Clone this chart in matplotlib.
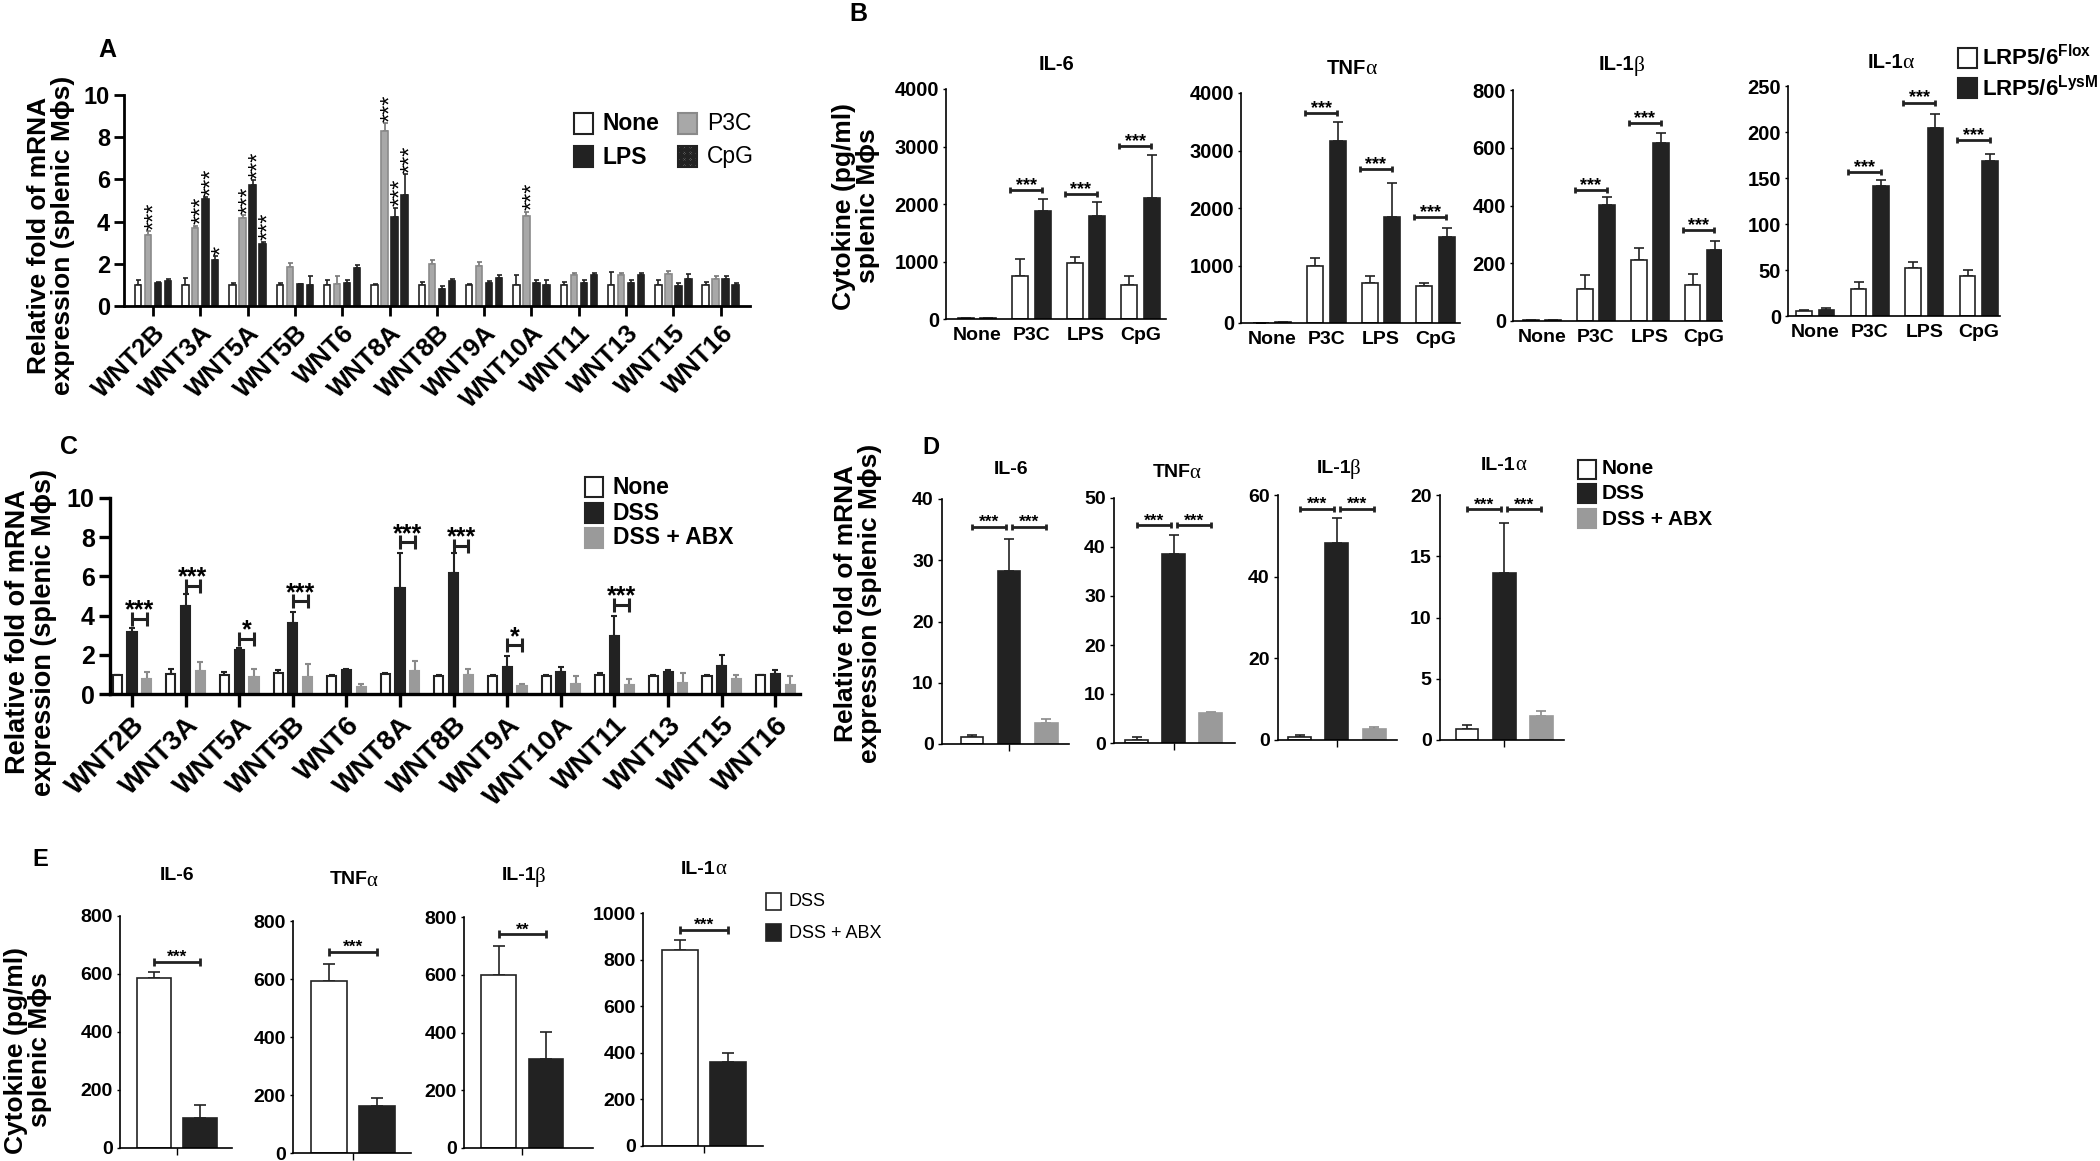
import numpy as np
import matplotlib
matplotlib.use("Agg")
from matplotlib import pyplot as plt
from matplotlib.patches import Rectangle

plt.rcParams['font.family'] = ['Liberation Sans', 'DejaVu Sans']
plt.rcParams['font.weight'] = 'bold'
plt.rcParams['mathtext.fontset'] = 'custom'
plt.rcParams['mathtext.rm'] = 'Liberation Sans'
plt.rcParams['mathtext.bf'] = 'Liberation Sans:bold'
plt.rcParams['hatch.linewidth'] = 0.8

# ---- A: WNT mRNA in splenic macrophages after TLR stimulation
wnt_a = ['WNT2B', 'WNT3A', 'WNT5A', 'WNT5B', 'WNT6', 'WNT8A', 'WNT8B',
         'WNT9A', 'WNT10A', 'WNT11', 'WNT13', 'WNT15', 'WNT16']
a_none = [1.0, 1.0, 1.0, 1.0, 1.0, 1.0, 1.0, 1.0, 1.0, 1.0, 1.0, 1.0, 1.0]
a_none_err = [0.25, 0.32, 0.1, 0.08, 0.22, 0.02, 0.12, 0.02, 0.45, 0.15, 0.62, 0.22, 0.16]
a_p3c = [3.35, 3.7, 4.15, 1.85, 1.05, 8.3, 1.98, 1.88, 4.25, 1.45, 1.45, 1.52, 1.3]
a_p3c_err = [0.2, 0.1, 0.15, 0.2, 0.37, 0.35, 0.2, 0.19, 0.22, 0.1, 0.1, 0.12, 0.12]
a_lps = [1.1, 5.05, 5.75, 1.02, 1.1, 4.2, 0.82, 1.08, 1.08, 1.08, 1.08, 0.95, 1.26]
a_lps_err = [0.05, 0.1, 0.2, 0.03, 0.15, 0.45, 0.13, 0.12, 0.14, 0.14, 0.14, 0.12, 0.17]
a_cpg = [1.2, 2.2, 2.95, 1.0, 1.8, 5.25, 1.18, 1.35, 1.0, 1.45, 1.45, 1.3, 0.98]
a_cpg_err = [0.1, 0.15, 0.1, 0.42, 0.15, 1.0, 0.12, 0.13, 0.22, 0.1, 0.1, 0.2, 0.12]
a_sig_p3c = ['***', '***', '***', '', '', '***', '', '', '***', '', '', '', '']
a_sig_lps = ['', '***', '***', '', '', '***', '', '', '', '', '', '', '']
a_sig_cpg = ['', '*', '***', '', '', '***', '', '', '', '', '', '', '']

# ---- B: cytokines, LRP5/6 flox vs LysM
b_groups = ['None', 'P3C', 'LPS', 'CpG']
b_titles = [('IL-6', ''), ('TNF', '\u03b1'), ('IL-1', '\u03b2'), ('IL-1', '\u03b1')]
b_flox = [[10, 750, 970, 600], [5, 990, 700, 650], [3, 111, 210, 126], [5, 29, 52, 44]]
b_flox_err = [[0, 290, 110, 150], [0, 140, 110, 40], [1, 47, 43, 38], [1.5, 8, 7, 6]]
b_lysm = [[10, 1870, 1790, 2100], [10, 3170, 1850, 1490], [4, 402, 617, 247], [7, 141, 204, 168]]
b_lysm_err = [[0, 220, 250, 750], [0, 330, 580, 170], [1, 26, 33, 30], [2, 7, 16, 8]]
b_bracket = [[None, 2250, 2180, 3015], [None, 3650, 2680, 1840],
             [None, 455, 684, 314], [None, 156, 232, 191]]
b_ymax = [4000, 4000, 800, 250]
b_ystep = [1000, 1000, 200, 50]

# ---- C: WNT mRNA after DSS +/- antibiotics
wnt_c = wnt_a
c_none = [0.95, 1.04, 0.97, 1.05, 0.9, 1.02, 0.93, 0.92, 0.92, 0.98, 0.9, 0.9, 0.95]
c_none_err = [0.04, 0.24, 0.14, 0.15, 0.08, 0.06, 0.04, 0.06, 0.05, 0.08, 0.07, 0.09, 0.02]
c_dss = [3.17, 4.48, 2.26, 3.6, 1.2, 5.4, 6.18, 1.36, 1.1, 2.95, 1.1, 1.45, 1.02]
c_dss_err = [0.18, 0.62, 0.1, 0.59, 0.08, 1.8, 1.02, 0.59, 0.3, 1.05, 0.15, 0.55, 0.22]
c_abx = [0.75, 1.15, 0.85, 0.88, 0.35, 1.15, 0.95, 0.41, 0.5, 0.45, 0.56, 0.78, 0.44]
c_abx_err = [0.37, 0.47, 0.42, 0.63, 0.17, 0.53, 0.33, 0.11, 0.4, 0.3, 0.5, 0.17, 0.5]
c_bracket = [3.83, 5.5, 2.83, 4.73, None, 7.73, 7.55, 2.48, None, 4.55, None, None, None]
c_sig = ['***', '***', '*', '***', '', '***', '***', '*', '', '***', '', '', '']

# ---- D: cytokine mRNA after DSS +/- antibiotics
d_titles = b_titles
d_none = [1.2, 0.7, 0.8, 0.87]
d_none_err = [0.27, 0.5, 0.5, 0.36]
d_dss = [28.3, 38.5, 48.2, 13.66]
d_dss_err = [5.2, 4.0, 6.1, 4.04]
d_abx = [3.4, 6.1, 2.7, 1.99]
d_abx_err = [0.7, 0.2, 0.4, 0.41]
d_bracket = [35.5, 44.4, 56.6, 18.83]
d_ymax = [40, 50, 60, 20]
d_ystep = [10, 10, 20, 5]

# ---- E: cytokine protein, DSS vs DSS + ABX
e_titles = b_titles
e_dss = [585, 592, 598, 840]
e_dss_err = [23, 59, 102, 43]
e_abx = [103, 163, 307, 359]
e_abx_err = [46, 27, 95, 38]
e_bracket = [643, 693, 740, 926]
e_sig = ['***', '***', '**', '***']
e_ymax = [800, 800, 800, 1000]

W, H = 2100, 1161
BLACK = '#222222'
GRAY_A = '#a8a8a8'
GRAY_C = '#9a9a9a'
YLAB_MRNA = 'Relative fold of mRNA\nexpression (splenic M\u03d5s)'
YLAB_CYTO = 'Cytokine (pg/ml)\nsplenic M\u03d5s'

fig = plt.figure(figsize=(W / 100, H / 100), dpi=100)
renderer = fig.canvas.get_renderer()


def axes_px(x0, x1, ytop, ybot, spine_w):
    ax = fig.add_axes([x0 / W, 1 - ybot / H, (x1 - x0) / W, (ybot - ytop) / H])
    ax.spines['top'].set_visible(False)
    ax.spines['right'].set_visible(False)
    ax.spines['left'].set_linewidth(spine_w)
    ax.spines['bottom'].set_linewidth(spine_w)
    ax.patch.set_alpha(0)
    return ax


def ftext(x, y, s, **kw):
    return fig.text(x / W, 1 - y / H, s, **kw)


def ftitle(x, y, parts, fs):
    # bold sans name followed by a thin serif greek letter, centred as one
    name, greek = parts
    if not greek:
        ftext(x, y, name, fontsize=fs, fontweight='bold', ha='center', va='center')
        return
    t1 = ftext(x, y, name, fontsize=fs, fontweight='bold', ha='left', va='center')
    t2 = ftext(x, y + 1, greek, fontsize=fs + 1, fontweight='normal', ha='left',
               va='center', family=['Liberation Serif', 'DejaVu Serif'])
    w1 = t1.get_window_extent(renderer).width
    w2 = t2.get_window_extent(renderer).width
    left = x - (w1 + w2) / 2
    t1.set_position((left / W, 1 - y / H))
    t2.set_position(((left + w1 - 1) / W, 1 - (y + 1) / H))


def fbox(x, y, w, h, **kw):
    fig.add_artist(Rectangle((x / W, 1 - (y + h) / H), w / W, h / H,
                             transform=fig.transFigure, **kw))


def draw_bars(ax, x, vals, errs, width, face, edge, lw, cap, hatch=None, ecolor=None):
    x = np.asarray(x, dtype=float)
    ax.errorbar(x, vals, yerr=[np.zeros(len(vals)), errs], fmt='none',
                ecolor=ecolor or edge, elinewidth=lw, capsize=cap, capthick=lw,
                zorder=1, clip_on=False)
    ax.bar(x, vals, width, color=face, edgecolor=edge, linewidth=lw,
           hatch=hatch, zorder=2)


def bracket(ax, x1, x2, y, label, tick, lw, fs, off=0):
    ax.plot([x1, x2], [y, y], color=BLACK, lw=lw, clip_on=False,
            solid_capstyle='butt')
    ax.plot([x1, x2], [y, y], ls='none', marker='|', ms=tick, mew=lw,
            color=BLACK, clip_on=False)
    ax.annotate(label, xy=((x1 + x2) / 2, y), xytext=(0, off),
                textcoords='offset points', ha='center', va='baseline',
                fontsize=fs, fontweight='bold', annotation_clip=False)


# ================= A =================
ftext(98, 38, 'A', fontsize=18, fontweight='bold', va='top')
axA = axes_px(124, 750, 95, 306, 2.0)
xa = np.arange(len(wnt_a))
wa = 0.135
series_a = [(a_none, a_none_err, -0.317, 'white', BLACK, None, BLACK, None),
            (a_p3c, a_p3c_err, -0.106, GRAY_A, '#8a8a8a', None, '#777777', a_sig_p3c),
            (a_lps, a_lps_err, 0.106, BLACK, BLACK, None, BLACK, a_sig_lps),
            (a_cpg, a_cpg_err, 0.317, 'white', BLACK, 'x' * 26, BLACK, a_sig_cpg)]
for vals, errs, off, face, edge, hatch, ec, sig in series_a:
    draw_bars(axA, xa + off, vals, errs, wa, face, edge, 1.2, 1.8, hatch, ec)
    if sig is None:
        continue
    for i, s in enumerate(sig):
        if s:
            axA.annotate(s, xy=(xa[i] + off, vals[i] + errs[i]), xytext=(5.0, 1.0),
                         textcoords='offset points', rotation=90, ha='center',
                         va='bottom', fontsize=17, fontweight='normal',
                         annotation_clip=False)
axA.set_xlim(-0.613, 12.62)
axA.set_ylim(0, 10)
axA.set_yticks(np.arange(0, 11, 2))
axA.set_xticks(xa)
axA.set_xticklabels(wnt_a, rotation=45, ha='right', va='top',
                    rotation_mode='anchor', fontsize=18.5, fontweight='bold')
axA.tick_params(axis='x', length=7, width=2, pad=4)
axA.tick_params(axis='y', length=7, width=2, pad=3, labelsize=17)
ftext(51, 235, YLAB_MRNA, rotation=90, ha='center', va='center', fontsize=19,
      fontweight='bold', linespacing=1.0, multialignment='center')
# legend A
fbox(574, 113, 19, 21, facecolor='white', edgecolor=BLACK, lw=1.5)
fbox(574, 146, 19, 21, facecolor=BLACK, edgecolor=BLACK, lw=1.5)
fbox(678, 113, 19, 21, facecolor=GRAY_A, edgecolor='#8a8a8a', lw=1.5)
fbox(678, 146, 19, 21, facecolor='white', edgecolor=BLACK, lw=1.5, hatch='x' * 14)
ftext(603, 124, 'None', fontsize=16.5, fontweight='bold', va='center')
ftext(603, 157, 'LPS', fontsize=16.5, fontweight='bold', va='center')
ftext(707, 124, 'P3C', fontsize=16.5, fontweight='normal', va='center')
ftext(707, 157, 'CpG', fontsize=16.5, fontweight='normal', va='center')

# ================= B =================
ftext(849, 2, 'B', fontsize=18, fontweight='bold', va='top')
b_axes_px = [(946, 1166, 89, 319, -0.57, 3.47), (1241, 1460, 93, 323, -0.57, 3.45),
             (1513, 1722, 90, 321, -0.54, 3.34), (1788, 2000, 86, 316, -0.5, 3.39)]
b_title_px = [(1057, 65), (1352, 68), (1622, 65), (1891, 62)]
xb = np.arange(len(b_groups))
for k in range(4):
    x0, x1, yt, yb, lo, hi = b_axes_px[k]
    ax = axes_px(x0, x1, yt, yb, 1.2)
    draw_bars(ax, xb - 0.206, b_flox[k], b_flox_err[k], 0.29, 'white', BLACK, 1.2, 3.5)
    draw_bars(ax, xb + 0.206, b_lysm[k], b_lysm_err[k], 0.29, BLACK, BLACK, 1.2, 3.5)
    for i, h in enumerate(b_bracket[k]):
        if h is not None:
            bracket(ax, xb[i] - 0.39, xb[i] + 0.2, h, '***', 5, 2.0, 13, 0)
    ax.set_xlim(lo, hi)
    ax.set_ylim(0, b_ymax[k])
    ax.set_yticks(np.arange(0, b_ymax[k] + 1, b_ystep[k]))
    ax.set_xticks(xb)
    ax.set_xticklabels(b_groups, fontsize=14, fontweight='bold')
    ax.tick_params(axis='x', length=0, pad=6)
    ax.tick_params(axis='y', length=2, width=1, pad=3, labelsize=14.5)
    tx, ty = b_title_px[k]
    ftitle(tx, ty, b_titles[k], 14.5)
ftext(856, 206, YLAB_CYTO, rotation=90, ha='center', va='center', fontsize=19,
      fontweight='bold', linespacing=1.0, multialignment='center')
fbox(1958, 48, 19, 20, facecolor='white', edgecolor=BLACK, lw=1.5)
fbox(1958, 78, 19, 20, facecolor=BLACK, edgecolor=BLACK, lw=1.5)
ftext(1982, 58, r'LRP5/6$^{\mathbf{Flox}}$', fontsize=16, fontweight='bold', va='center')
ftext(1982, 88, r'LRP5/6$^{\mathbf{LysM}}$', fontsize=16, fontweight='bold', va='center')

# ================= C =================
ftext(60, 435, 'C', fontsize=18, fontweight='bold', va='top')
axC = axes_px(110, 800, 498, 694, 2.4)
xc = np.arange(len(wnt_c))
draw_bars(axC, xc - 0.275, c_none, c_none_err, 0.17, 'white', BLACK, 1.5, 2.2)
draw_bars(axC, xc, c_dss, c_dss_err, 0.17, BLACK, BLACK, 1.5, 2.2)
draw_bars(axC, xc + 0.275, c_abx, c_abx_err, 0.17, GRAY_C, GRAY_C, 1.5, 2.2, ecolor='#8a8a8a')
for i, h in enumerate(c_bracket):
    if h is not None:
        bracket(axC, xc[i], xc[i] + 0.275, h, c_sig[i], 10, 2.2, 18, 1)
axC.set_xlim(-0.41, 12.46)
axC.set_ylim(0, 10)
axC.set_yticks(np.arange(0, 11, 2))
axC.set_xticks(xc)
axC.set_xticklabels(wnt_c, rotation=45, ha='right', va='top',
                    rotation_mode='anchor', fontsize=20, fontweight='bold')
axC.tick_params(axis='x', length=9, width=2.4, pad=4)
axC.tick_params(axis='y', length=8, width=2.4, pad=3, labelsize=18)
ftext(31, 632, YLAB_MRNA, rotation=90, ha='center', va='center', fontsize=19.5,
      fontweight='bold', linespacing=1.0, multialignment='center')
fbox(585, 477, 18, 20, facecolor='white', edgecolor=BLACK, lw=1.5)
fbox(585, 503, 18, 20, facecolor=BLACK, edgecolor=BLACK, lw=1.5)
fbox(585, 528, 18, 20, facecolor=GRAY_C, edgecolor=GRAY_C, lw=1.5)
ftext(613, 487, 'None', fontsize=16.5, fontweight='bold', va='center')
ftext(613, 513, 'DSS', fontsize=16.5, fontweight='bold', va='center')
ftext(613, 538, 'DSS + ABX', fontsize=16.5, fontweight='bold', va='center')

# ================= D =================
ftext(922, 436, 'D', fontsize=17, fontweight='bold', va='top')
d_axes_px = [(942, 1069, 499, 744, -0.81, 2.62), (1114, 1235, 498, 743, -0.62, 2.65),
             (1278, 1397, 495, 740, -0.59, 2.62), (1440, 1564, 495, 740, -0.73, 2.62)]
d_title_px = [(1011, 470), (1177, 472), (1339, 468), (1504, 465)]
xd = np.arange(3)
for k in range(4):
    x0, x1, yt, yb, lo, hi = d_axes_px[k]
    ax = axes_px(x0, x1, yt, yb, 1.2)
    draw_bars(ax, xd[0:1], [d_none[k]], [d_none_err[k]], 0.62, 'white', BLACK, 1.2, 3.5)
    draw_bars(ax, xd[1:2], [d_dss[k]], [d_dss_err[k]], 0.62, BLACK, BLACK, 1.2, 3.5)
    draw_bars(ax, xd[2:3], [d_abx[k]], [d_abx_err[k]], 0.62, GRAY_C, GRAY_C, 1.2, 3.5,
              ecolor='#8a8a8a')
    bracket(ax, 0, 0.93, d_bracket[k], '***', 5, 2.0, 12.5, 0)
    bracket(ax, 1.07, 2, d_bracket[k], '***', 5, 2.0, 12.5, 0)
    ax.set_xlim(lo, hi)
    ax.set_ylim(0, d_ymax[k])
    ax.set_yticks(np.arange(0, d_ymax[k] + 1, d_ystep[k]))
    ax.set_xticks([1])
    ax.set_xticklabels([''])
    ax.tick_params(axis='x', length=5, width=1)
    ax.tick_params(axis='y', length=3, width=1, pad=3, labelsize=14)
    tx, ty = d_title_px[k]
    ftitle(tx, ty, d_titles[k], 14)
ftext(858, 603, YLAB_MRNA, rotation=90, ha='center', va='center', fontsize=19,
      fontweight='bold', linespacing=1.0, multialignment='center')
fbox(1578, 460, 18, 19, facecolor='white', edgecolor=BLACK, lw=1.5)
fbox(1578, 484, 18, 19, facecolor=BLACK, edgecolor=BLACK, lw=1.5)
fbox(1578, 509, 18, 19, facecolor=GRAY_C, edgecolor=GRAY_C, lw=1.5)
ftext(1602, 469, 'None', fontsize=15, fontweight='bold', va='center')
ftext(1602, 494, 'DSS', fontsize=15, fontweight='bold', va='center')
ftext(1602, 519, 'DSS + ABX', fontsize=15, fontweight='bold', va='center')

# ================= E =================
ftext(32, 848, 'E', fontsize=17, fontweight='bold', va='top')
e_axes_px = [(120, 232, 916, 1148, -0.74, 1.70), (293, 411, 921, 1153, -0.75, 1.70),
             (464, 593, 917, 1148, -0.74, 2.0), (643, 763, 913, 1146, -0.77, 1.73)]
e_title_px = [(177, 875), (354, 880), (524, 876), (704, 869)]
for k in range(4):
    x0, x1, yt, yb, lo, hi = e_axes_px[k]
    ax = axes_px(x0, x1, yt, yb, 1.2)
    draw_bars(ax, [0], [e_dss[k]], [e_dss_err[k]], 0.74, 'white', BLACK, 1.2, 4)
    draw_bars(ax, [1], [e_abx[k]], [e_abx_err[k]], 0.74, BLACK, BLACK, 1.2, 4)
    bracket(ax, 0, 1, e_bracket[k], e_sig[k], 6, 2.0, 12.5, 0)
    ax.set_xlim(lo, hi)
    ax.set_ylim(0, e_ymax[k])
    ax.set_yticks(np.arange(0, e_ymax[k] + 1, 200))
    ax.set_xticks([0.5])
    ax.set_xticklabels([''])
    ax.tick_params(axis='x', length=5, width=1)
    ax.tick_params(axis='y', length=2, width=1, pad=3, labelsize=14)
    tx, ty = e_title_px[k]
    ftitle(tx, ty, e_titles[k], 14)
ftext(28, 1050, YLAB_CYTO, rotation=90, ha='center', va='center', fontsize=19,
      fontweight='bold', linespacing=1.0, multialignment='center')
fbox(766, 893, 15, 17, facecolor='white', edgecolor=BLACK, lw=1.2)
fbox(766, 924, 15, 17, facecolor=BLACK, edgecolor=BLACK, lw=1.2)
ftext(789, 902, 'DSS', fontsize=13, fontweight='normal', va='center')
ftext(789, 933, 'DSS + ABX', fontsize=13, fontweight='normal', va='center')

fig.savefig('out.png', dpi=100)
